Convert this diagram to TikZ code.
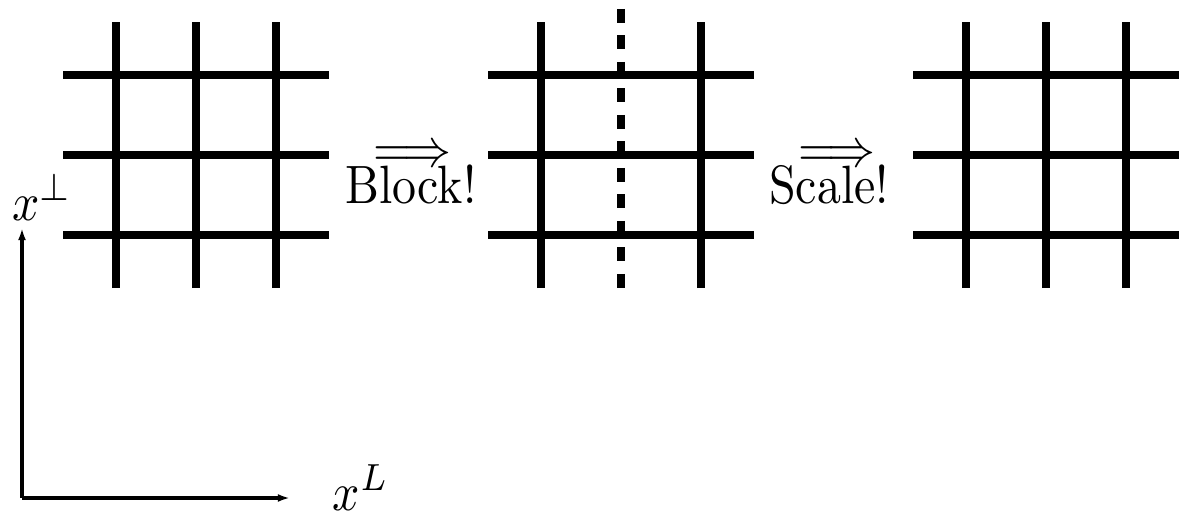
\documentclass[tikz,border=0pt]{standalone}
\usetikzlibrary{arrows.meta}
\newcommand{\tall}[1]{\scalebox{1.02}[1.15]{#1}}
\tikzset{
  gridline/.style={line width=1.75pt},
  cutline/.style={line width=1.75pt,dash pattern=on 2.98pt off 2.66pt},
  axisarr/.style={-{Latex[length=2.6pt,width=1.7pt]},line width=0.65pt},
  lbl/.style={inner sep=0pt,anchor=base}
}
\begin{document}
\begin{tikzpicture}[x=17.04pt,y=17.04pt]
  \useasboundingbox (0,0) rectangle (14.7625,6.4625);
  % three lattices
  \foreach \cx in {2.45,7.7625,13.075}{
    \foreach \i in {-1,0,1}
      \draw[gridline] (\cx-1.6625,4.525+\i)--(\cx+1.6625,4.525+\i);
    \foreach \i in {-1,1}
      \draw[gridline] (\cx+\i,2.8625)--(\cx+\i,6.1875);
  }
  \draw[gridline] (2.45,2.8625)--(2.45,6.1875);
  \draw[gridline] (13.075,2.8625)--(13.075,6.1875);
  % cut in the middle lattice
  \draw[cutline] (7.7625,6.35)--(7.7625,2.8625);

  % steps
  \node[lbl] (blockarr) at (5.156,4.3825) {\tall{$\Longrightarrow$}};
  \node[lbl] (blocktxt) at (5.136,3.92) {\tall{Block!}};
  \node[lbl] (scalearr) at (10.459,4.3825) {\tall{$\Longrightarrow$}};
  \node[lbl] (scaletxt) at (10.365,3.92) {\tall{Scale!}};

  % axes
  \coordinate (origin) at (0.275,0.2375);
  \coordinate (yend) at (0.275,3.6125);
  \coordinate (xend) at (3.625,0.2375);
  \draw[axisarr] (origin)--(yend);
  \draw[axisarr] (origin)--(xend);
  \node[lbl,anchor=base west] (xperp) at (0.14,3.7125) {\tall{$x^\perp$}};
  \node[lbl,anchor=base west] (xlong) at (4.15,0.0875) {\tall{$x^L$}};
\end{tikzpicture}
\end{document}
